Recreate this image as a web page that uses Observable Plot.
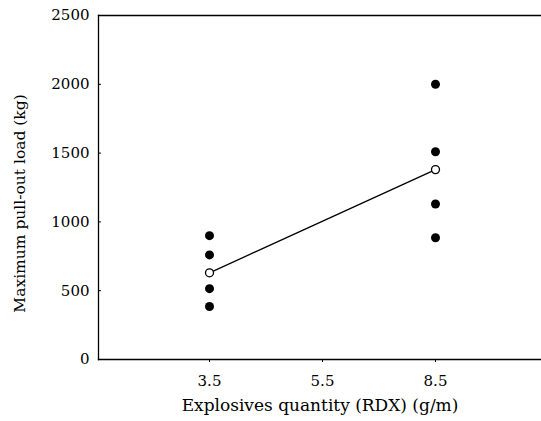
<!DOCTYPE html>
<html>
<head>
<meta charset="utf-8">
<script src="https://cdn.jsdelivr.net/npm/d3@7"></script>
<script src="https://cdn.jsdelivr.net/npm/@observablehq/plot@0.6"></script>
<style>
  html, body { margin: 0; padding: 0; background: #fff; overflow: hidden; }
</style>
</head>
<body>
<div id="chart"></div>
<script>
// Tick labels / categories on the x axis
const quantities = ["3.5", "5.5", "8.5"];
// Individual test results (filled dots)
const sampleQuantity = ["3.5", "3.5", "3.5", "3.5", "8.5", "8.5", "8.5", "8.5"];
const sampleLoad = [900, 760, 515, 385, 2000, 1510, 1130, 885];
// Mean values (open circles joined by a line)
const meanQuantity = ["3.5", "8.5"];
const meanLoad = [630, 1380];
// Y tick values
const yTicks = [0, 500, 1000, 1500, 2000, 2500];

const samples = sampleQuantity.map((q, i) => ({q, load: sampleLoad[i]}));
const means = meanQuantity.map((q, i) => ({q, load: meanLoad[i]}));

const font = "DejaVu Serif";

const chart = Plot.plot({
  width: 541,
  height: 421,
  marginLeft: 98,
  marginRight: 0,
  marginTop: 15,
  marginBottom: 62,
  style: {fontFamily: font, fontSize: "15px", color: "#000", background: "#fff"},
  x: {type: "point", domain: quantities, padding: 0.96, align: 0.51},
  y: {domain: [0, 2500]},
  marks: [
    Plot.frame({anchor: "left", stroke: "#000", strokeWidth: 1.3}),
    Plot.frame({anchor: "top", stroke: "#000", strokeWidth: 1.3}),
    Plot.frame({anchor: "bottom", stroke: "#000", strokeWidth: 1.3}),
    Plot.axisY({ticks: yTicks, tickSize: -3, tickPadding: 12, label: null, fontSize: 15, tickFormat: d => String(d)}),
    Plot.axisX({tickSize: 3, tickPadding: 13, label: null, fontSize: 15}),
    Plot.line(means, {x: "q", y: "load", stroke: "#000", strokeWidth: 1.3}),
    Plot.dot(samples, {x: "q", y: "load", r: 4.5, fill: "#000", stroke: "none"}),
    Plot.dot(means, {x: "q", y: "load", r: 4, fill: "#fff", stroke: "#000", strokeWidth: 1.3}),
    Plot.text(["Explosives quantity (RDX) (g/m)"], {text: d => d, frameAnchor: "bottom", textAnchor: "middle", lineAnchor: "middle", dy: 46, fontSize: 17, fill: "#000"}),
    Plot.text(["Maximum pull-out load (kg)"], {text: d => d, frameAnchor: "left", textAnchor: "middle", rotate: -90, lineAnchor: "middle", dx: -78, dy: 16, fontSize: 15.5, fill: "#000"})
  ]
});
document.getElementById("chart").appendChild(chart);
</script>
</body>
</html>
